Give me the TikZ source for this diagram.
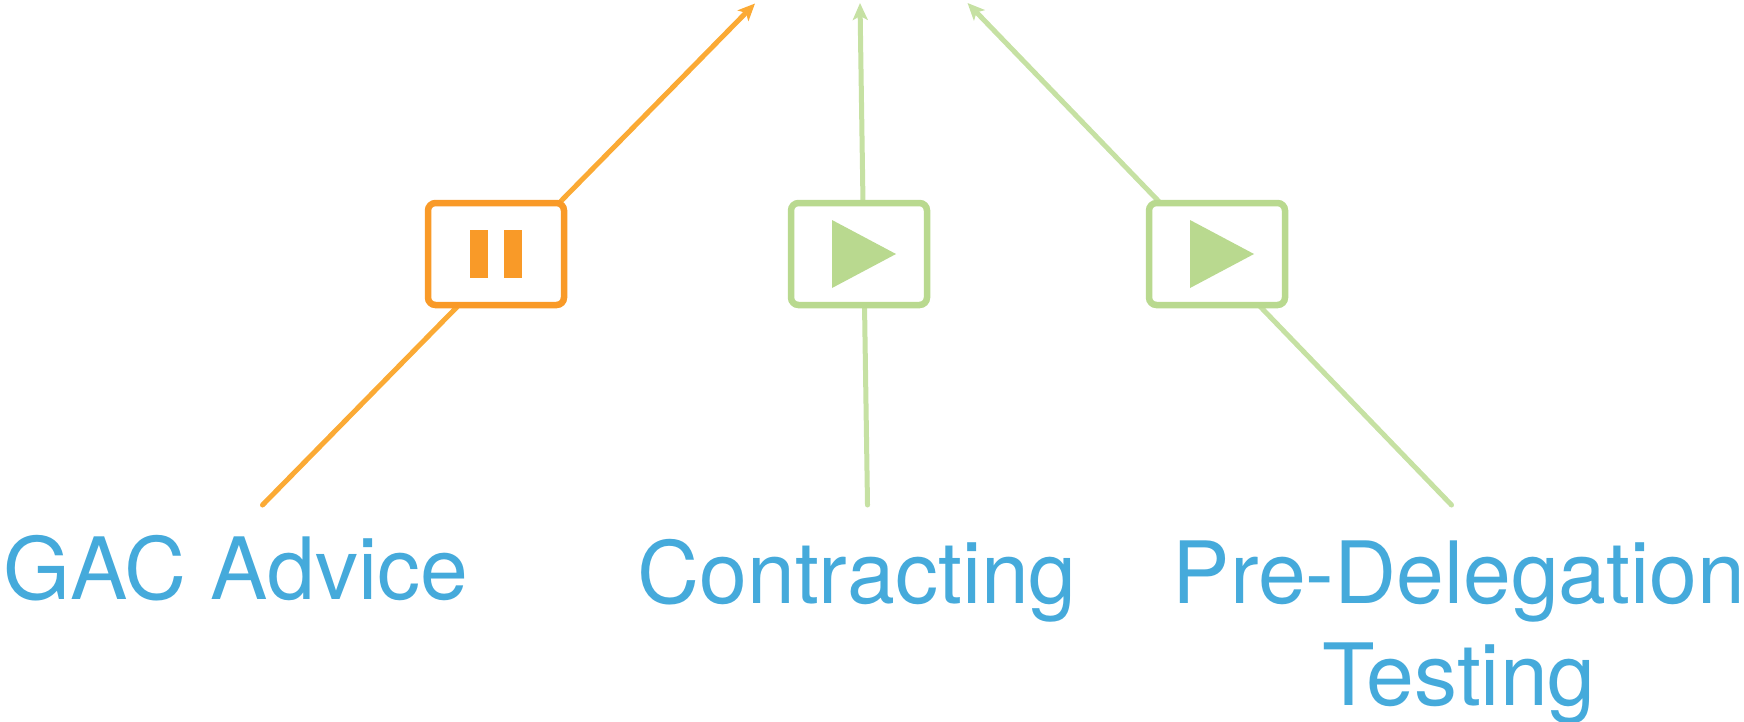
\documentclass[tikz,border=0pt]{standalone}
\usepackage{fontspec}
\setmainfont{TeX Gyre Heros}
\usetikzlibrary{arrows.meta, calc, positioning}
\definecolor{pauseline}{HTML}{FBAA35}
\definecolor{pausebox}{HTML}{F99A28}
\definecolor{playline}{HTML}{C6E1A3}
\definecolor{playbox}{HTML}{B9D98F}
\definecolor{labelblue}{HTML}{45AADB}

\begin{document}
\begin{tikzpicture}[x=1pt,y=-1pt,
flow/.style={line width=5pt,line cap=round,-{Stealth[length=17pt,width=15pt,inset=4pt]}},
statebox/.style={draw,fill=white,rounded corners=7.5pt,line width=6.5pt,minimum width=136pt,minimum height=102pt,inner sep=0pt},
pausebar/.style={fill=pausebox,minimum width=17.5pt,minimum height=48.5pt,inner sep=0pt},
stagelabel/.style={text=labelblue,anchor=base,align=center,inner sep=0pt,font=\fontsize{86}{102}\selectfont},
]
\useasboundingbox (0,0) rectangle (1744,721);

\coordinate (startA) at (262.5,505);
\coordinate (tipA) at (755,3.5);
\coordinate (startB) at (867.5,505);
\coordinate (tipB) at (860,3);
\coordinate (startC) at (1451.5,505);
\coordinate (tipC) at (967.5,3);

\draw[flow,pauseline] (startA) -- (tipA);
\draw[flow,playline] (startB) -- (tipB);
\draw[flow,playline] (startC) -- (tipC);

\node[statebox,draw=pausebox] (boxA) at (496,254) {};
\node[statebox,draw=playbox] (boxB) at (859,254) {};
\node[statebox,draw=playbox] (boxC) at (1217,254) {};

\node[pausebar] (barL) at ($(boxA)+(-17,0)$) {};
\node[pausebar] (barR) at ($(boxA)+(17,0)$) {};

\fill[playbox] ($(boxB)+(-27,-34)$) -- ($(boxB)+(37,0)$) -- ($(boxB)+(-27,34)$) -- cycle;
\fill[playbox] ($(boxC)+(-27,-34)$) -- ($(boxC)+(37,0)$) -- ($(boxC)+(-27,34)$) -- cycle;

\node[stagelabel] (labelA) at (236,599) {GAC Advice};
\node[stagelabel] (labelB) at (857,603) {Contracting};
\node[stagelabel] (labelC) at (1459,705) {Pre-Delegation\\Testing};
\end{tikzpicture}
\end{document}
